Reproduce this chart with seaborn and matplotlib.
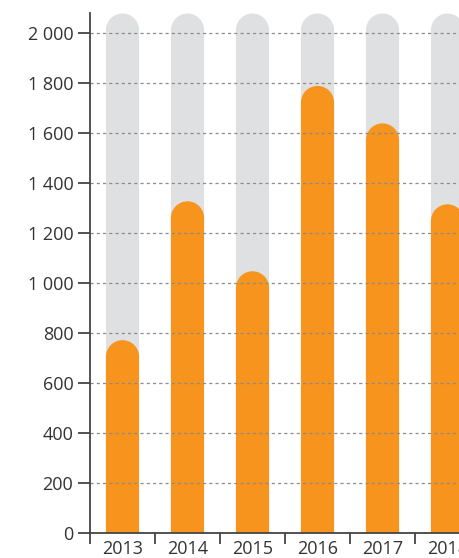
import numpy as np
import pandas as pd
import matplotlib
matplotlib.use('Agg')
import matplotlib.pyplot as plt
import seaborn as sns
from matplotlib.path import Path
from matplotlib.patches import PathPatch
from matplotlib.ticker import FuncFormatter

# values
years = ['2013', '2014', '2015', '2016', '2017', '2018']
values = [772, 1328, 1048, 1790, 1640, 1316]
background = [2080, 2080, 2080, 2080, 2080, 2080]

orange = '#f7941d'
grey = '#dfe0e2'

df = pd.DataFrame({'year': years, 'value': values, 'bg': background})

sns.set_style('white')
plt.rcParams['font.family'] = ['Open Sans', 'DejaVu Sans']

fig = plt.figure(figsize=(4.6, 5.58), dpi=100)
ax = fig.add_axes([90 / 460, 25 / 558, 370 / 460, 520 / 558])

# grey track behind each bar, then the real values on top
sns.barplot(data=df, x='year', y='bg', color=grey, width=0.51, saturation=1, ax=ax)
sns.barplot(data=df, x='year', y='value', color=orange, width=0.51, saturation=1, ax=ax)

ax.set_xlim(-0.5, -0.5 + 370 / 65)
ax.set_ylim(0, 2082)

# swap the plain rectangles for bars with a rounded top
fig.canvas.draw()
px_x = ax.transData.transform([[1, 0]])[0][0] - ax.transData.transform([[0, 0]])[0][0]
px_y = ax.transData.transform([[0, 1]])[0][1] - ax.transData.transform([[0, 0]])[0][1]
arc = Path.arc(0, 180)
for rect in list(ax.patches):
    x0, w, h = rect.get_x(), rect.get_width(), rect.get_height()
    rx = w / 2
    ry = rx * px_x / px_y
    cx = x0 + rx
    verts = [(x0, 0), (x0 + w, 0), (x0 + w, h - ry)]
    codes = [Path.MOVETO, Path.LINETO, Path.LINETO]
    for v, c in zip(arc.vertices[1:], arc.codes[1:]):
        verts.append((cx + rx * v[0], h - ry + ry * v[1]))
        codes.append(c)
    verts.append((x0, 0))
    codes.append(Path.CLOSEPOLY)
    ax.add_patch(PathPatch(Path(verts, codes), facecolor=rect.get_facecolor(),
                           edgecolor='none', zorder=rect.get_zorder()))
    rect.remove()

# dashed grid lines drawn over the bars
ax.set_yticks(range(0, 2001, 200))
ax.yaxis.set_major_formatter(FuncFormatter(lambda v, p: f'{int(v):,}'.replace(',', ' ')))
ax.grid(axis='y', color='#8c8c8c', linestyle=(0, (2.5, 2.5)), linewidth=0.9, zorder=5)
ax.set_axisbelow(False)

# category boundary ticks on the x axis
ax.set_xticks(np.arange(-0.5, 5.5, 1), minor=True)
ax.tick_params(which='both', bottom=True, left=True)
ax.tick_params(axis='x', which='major', length=0, pad=5, labelsize=13, labelcolor='#333333')
ax.tick_params(axis='x', which='minor', length=8, width=1.3, color='#444444', direction='out')
ax.tick_params(axis='y', which='major', length=9, width=1.3, color='#444444', direction='out',
               labelsize=13, labelcolor='#333333', pad=3)

for side in ['top', 'right']:
    ax.spines[side].set_visible(False)
for side in ['left', 'bottom']:
    ax.spines[side].set_color('#444444')
    ax.spines[side].set_linewidth(1.3)
    ax.spines[side].set_zorder(6)

ax.set_xlabel('')
ax.set_ylabel('')

fig.savefig('out.png', dpi=100)
